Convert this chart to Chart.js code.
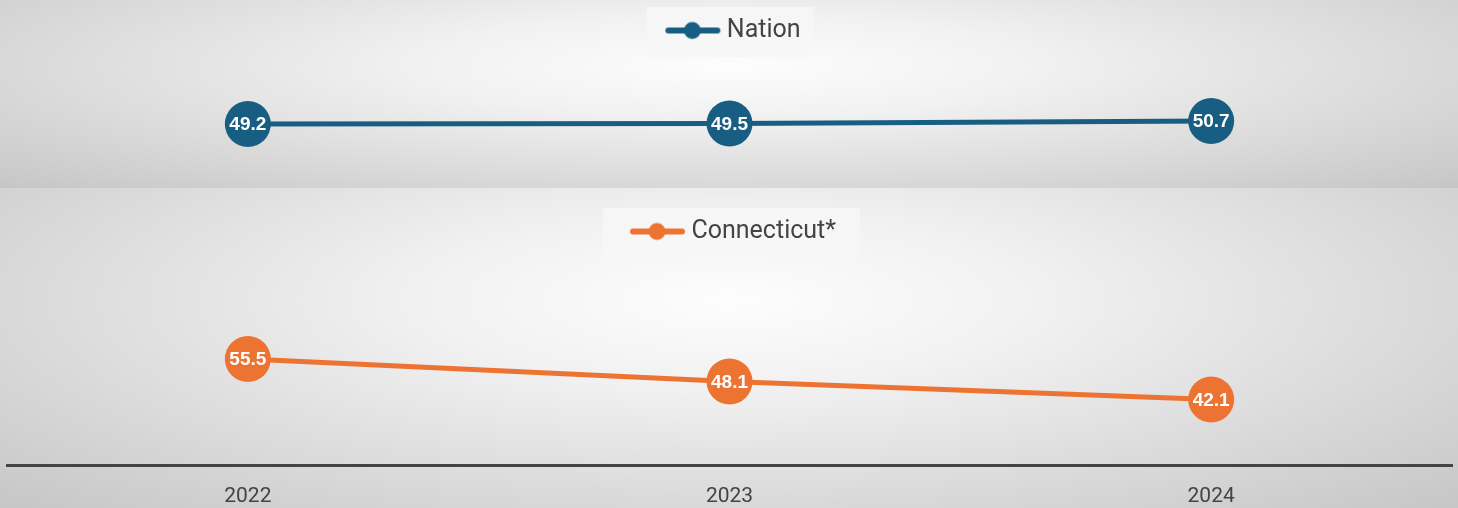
<!DOCTYPE html>
<html>
<head>
<meta charset="UTF-8">
<title>Nation vs Connecticut</title>
<script src="https://cdn.jsdelivr.net/npm/chart.js@4.4.1/dist/chart.umd.min.js"></script>
<style>
    body {
        margin: 0;
        width: 1458px;
        height: 508px;
        overflow: hidden;
        font-family: Roboto, sans-serif;
    }
    .panel {
        position: relative;
        width: 1458px;
        background: radial-gradient(ellipse farthest-corner at 50% 35%, #fdfdfd 0%, #f1f1f1 30%, #c6c6c6 100%);
    }
    #topPanel { height: 188px; }
    #bottomPanel { height: 320px; }
</style>
</head>
<body>
<div class="panel" id="topPanel"><canvas id="nationChart"></canvas></div>
<div class="panel" id="bottomPanel"><canvas id="ctChart"></canvas></div>
<script>
    // Data
    const years = ['2022', '2023', '2024'];
    const nationValues = [49.2, 49.5, 50.7];
    const ctValues = [55.5, 48.1, 42.1];

    const nationColor = '#175e82';
    const ctColor = '#ed7332';

    // legend marker: line with a dot in the middle (shifted right, close to the text)
    function legendMarker(color) {
        const c = document.createElement('canvas');
        c.width = 70; c.height = 22;
        const g = c.getContext('2d');
        g.strokeStyle = color; g.lineWidth = 6; g.lineCap = 'round';
        g.beginPath(); g.moveTo(17, 11); g.lineTo(66, 11); g.stroke();
        g.fillStyle = color;
        g.beginPath(); g.arc(41, 11, 8.5, 0, Math.PI * 2); g.fill();
        return c;
    }

    // light box behind the legend
    const legendBg = {
        id: 'legendBg',
        beforeDraw(chart, args, opts) {
            const boxes = chart.legend && chart.legend.legendHitBoxes;
            if (!boxes || !boxes.length) return;
            const b = boxes[0];
            const ctx = chart.ctx;
            ctx.save();
            ctx.fillStyle = 'rgba(246,246,246,0.92)';
            ctx.fillRect(b.left - opts.left, b.top - 11, b.width + opts.left + opts.right, b.height + 25);
            ctx.restore();
        }
    };

    // values written inside the points
    const valueLabels = {
        id: 'valueLabels',
        afterDatasetsDraw(chart) {
            const ctx = chart.ctx;
            chart.data.datasets.forEach((ds, i) => {
                chart.getDatasetMeta(i).data.forEach((pt, j) => {
                    ctx.save();
                    ctx.fillStyle = '#ffffff';
                    ctx.font = 'bold 19px "Liberation Sans", Arial, sans-serif';
                    ctx.textAlign = 'center';
                    ctx.textBaseline = 'middle';
                    ctx.fillText(ds.data[j].toFixed(1), pt.x, pt.y + 1);
                    ctx.restore();
                });
            });
        }
    };

    function makeChart(id, label, values, color, yMin, yMax, showAxis, padding, boxPad) {
        return new Chart(document.getElementById(id), {
            type: 'line',
            data: {
                labels: years,
                datasets: [{
                    label: label,
                    data: values,
                    borderColor: color,
                    backgroundColor: color,
                    borderWidth: 5,
                    tension: 0,
                    pointRadius: 23,
                    pointHoverRadius: 23,
                    pointBorderWidth: 0,
                    pointBackgroundColor: color,
                    clip: false
                }]
            },
            options: {
                responsive: true,
                maintainAspectRatio: false,
                animation: false,
                events: [],
                layout: { padding: padding, autoPadding: false },
                plugins: {
                    tooltip: { enabled: false },
                    legendBg: boxPad,
                    legend: {
                        position: 'top',
                        labels: {
                            usePointStyle: true,
                            pointStyle: legendMarker(color),
                            pointStyleWidth: 56,
                            boxHeight: 22,
                            color: '#444444',
                            padding: 18,
                            font: { size: 25, family: 'Roboto, sans-serif' }
                        }
                    }
                },
                scales: {
                    x: {
                        display: showAxis,
                        offset: true,
                        grid: { display: false, drawTicks: false },
                        border: { display: true, color: '#444444', width: 3 },
                        ticks: {
                            color: '#444444',
                            padding: 18,
                            font: { size: 21, family: 'Roboto, sans-serif' }
                        }
                    },
                    y: {
                        display: false,
                        min: yMin,
                        max: yMax
                    }
                }
            },
            plugins: [legendBg, valueLabels]
        });
    }

    makeChart('nationChart', 'Nation', nationValues, nationColor, 18.8, 85.8, false,
        { top: 0, left: 7, right: 6, bottom: 5 }, { left: 12, right: 13 });
    makeChart('ctChart', 'Connecticut*', ctValues, ctColor, 20.2, 90.2, true,
        { top: 13, left: 7, right: 6, bottom: -19 }, { left: 20, right: 24 });
</script>
</body>
</html>
